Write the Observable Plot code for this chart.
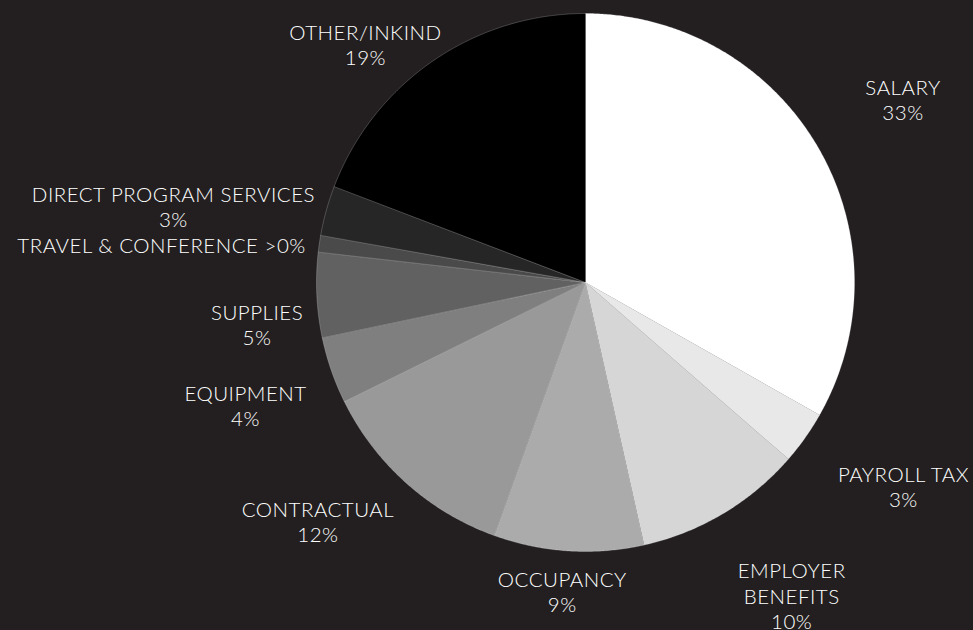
<!DOCTYPE html>
<html>
<head>
<meta charset="utf-8">
<script src="https://cdn.jsdelivr.net/npm/d3@7"></script>
<script src="https://cdn.jsdelivr.net/npm/@observablehq/plot@0.6"></script>
<style>
  html, body { margin: 0; padding: 0; background: #231f20; }
  #chart svg { display: block; background: #231f20; }
  #chart svg text { letter-spacing: 0.5px; }
</style>
</head>
<body>
<div id="chart"></div>
<script>
// ---- data ----
const categories = ["SALARY", "PAYROLL TAX", "EMPLOYER\nBENEFITS", "OCCUPANCY", "CONTRACTUAL",
  "EQUIPMENT", "SUPPLIES", "TRAVEL & CONFERENCE", "DIRECT PROGRAM SERVICES", "OTHER/INKIND"];
const shares = [33.2, 3.2, 10.1, 9.0, 12.2, 4.0, 5.1, 1.0, 3.0, 19.2];
const shareLabels = ["33%", "3%", "10%", "9%", "12%", "4%", "5%", ">0%", "3%", "19%"];
const sliceColors = ["#ffffff", "#e8e8e8", "#d6d6d6", "#ababab", "#999999",
  "#7f7f7f", "#616161", "#4a4a4a", "#262626", "#000000"];

// ---- layout ----
const W = 973, H = 630;
const cx = 585, cy = 282, R = 269;
// label placement: angular nudge (deg) from slice mid-angle and distance as fraction of radius
const labelNudge = [0.3, -2.6, -2.6, 0.7, 6.5, -0.8, -4.6, -3.25, -5.0, -8.2];
const labelDist = [1.362, 1.404, 1.393, 1.152, 1.333, 1.344, 1.231, 1.582, 1.558, 1.205];
const inlineShare = [false, false, false, false, false, false, false, true, false, false];

const total = d3.sum(shares);
const slices = [];
let acc = 0;
shares.forEach((v, i) => {
  const a0 = acc / total * 360;
  acc += v;
  const a1 = acc / total * 360;
  slices.push({i, a0, a1, mid: (a0 + a1) / 2});
});

const rad = Math.PI / 180;
const polar = (a, r) => ({x: cx + r * Math.sin(a * rad), y: cy - r * Math.cos(a * rad)});

const slicePoints = [];
for (const s of slices) {
  const n = Math.max(2, Math.ceil((s.a1 - s.a0) / 0.4));
  slicePoints.push({...polar(0, 0), key: categories[s.i], color: sliceColors[s.i]});
  for (let k = 0; k <= n; k++) {
    const a = s.a0 + (s.a1 - s.a0) * k / n;
    slicePoints.push({...polar(a, R), key: categories[s.i], color: sliceColors[s.i]});
  }
}

const labels = slices.map(s => {
  const p = polar(s.mid + labelNudge[s.i], R * labelDist[s.i]);
  return {
    ...p,
    text: categories[s.i] + (inlineShare[s.i] ? " " : "\n") + shareLabels[s.i]
  };
});

const chart = Plot.plot({
  width: W,
  height: H,
  margin: 0,
  style: {background: "#231f20", fontFamily: "Lato, 'Open Sans', sans-serif"},
  x: {domain: [0, W], range: [0, W], axis: null},
  y: {domain: [0, H], range: [0, H], axis: null},
  color: {type: "identity"},
  marks: [
    Plot.line(slicePoints, {
      x: "x", y: "y", z: "key", fill: "color",
      stroke: "rgba(255,255,255,0.35)", strokeWidth: 0.6,
      curve: "linear-closed"
    }),
    Plot.text(labels, {
      x: "x", y: "y", text: "text",
      fill: "#ffffff", fontSize: 20.5, lineHeight: 1.24,
      fontWeight: 300,
      textAnchor: "middle", lineAnchor: "middle",
      fontFamily: "Lato, 'Open Sans', sans-serif"
    })
  ]
});
document.getElementById("chart").appendChild(chart);
</script>
</body>
</html>
